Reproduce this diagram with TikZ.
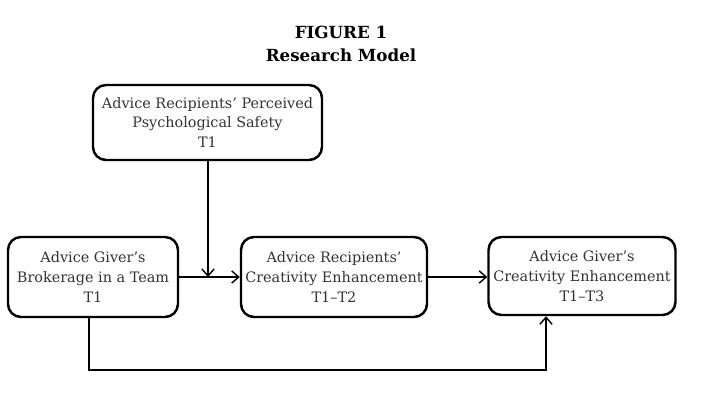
\documentclass[tikz,border=0pt]{standalone}
\usepackage{fontspec}
\setmainfont{DejaVu Serif}
\usetikzlibrary{arrows.meta}
\begin{document}
\begin{tikzpicture}[x=0.02cm,y=-0.02cm,
    box/.style={draw,line width=1.4pt,rounded corners=0.26cm,align=center,
      font=\fontsize{8.2}{11.2}\selectfont\color{black!80},inner sep=0pt},
    link/.style={line width=0.8pt,-{Straight Barb[length=4pt,width=7pt]}}]
  \useasboundingbox (0,0) rectangle (711,403);
  \node[font=\bfseries\fontsize{9.5}{13.5}\selectfont,align=center] (title) at (341,44)
    {FIGURE 1\\Research Model};
  \draw
    (207.5,122.5) node[box,minimum width=229*0.02cm,minimum height=75*0.02cm] (safety)
      {Advice Recipients' Perceived\\Psychological Safety\\T1}
    (93,277) node[box,minimum width=170*0.02cm,minimum height=80*0.02cm] (broker)
      {Advice Giver's\\Brokerage in a Team\\T1}
    (334,277) node[box,minimum width=186*0.02cm,minimum height=80*0.02cm] (recip)
      {Advice Recipients'\\Creativity Enhancement\\T1--T2}
    (582,276) node[box,minimum width=187*0.02cm,minimum height=78*0.02cm] (giver)
      {Advice Giver's\\Creativity Enhancement\\T1--T3};
  \coordinate (meet) at (208,277);
  \begin{scope}[link]
    \draw (broker) to (recip);
    \draw (safety.south -| meet) to (meet);
    \draw (recip) to (giver.west |- recip);
    \draw (broker.south -| 89,0) -- (89,370) -- (546,370) -- (giver.south -| 546,0);
  \end{scope}
\end{tikzpicture}
\end{document}
